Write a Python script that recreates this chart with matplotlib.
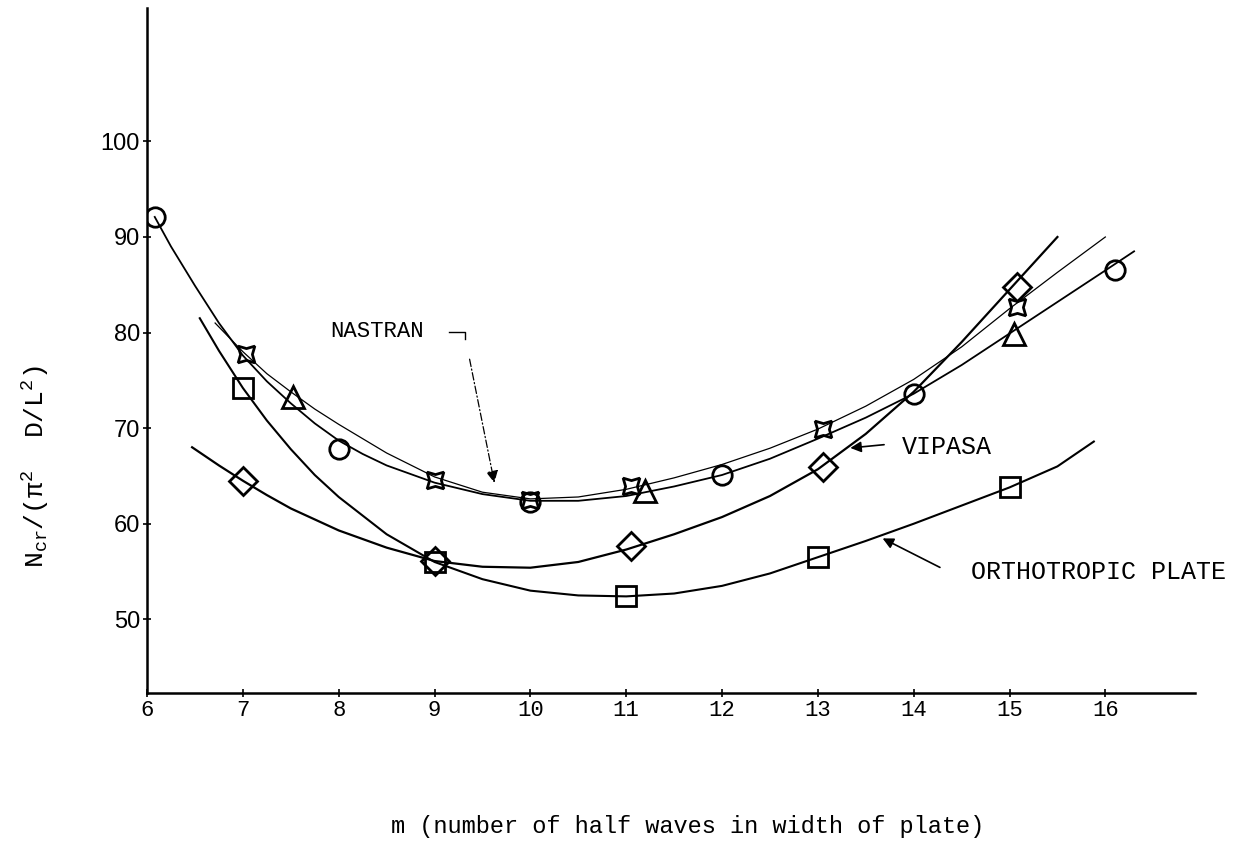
import matplotlib
matplotlib.use("Agg")
import matplotlib.pyplot as plt

plt.rcParams['font.family'] = ['Liberation Mono', 'DejaVu Sans']
plt.rcParams['mathtext.default'] = 'regular'

# points
m_circle = [6.08, 8.0, 10.0, 12.0, 14.0, 16.1]
v_circle = [92.1, 67.8, 62.3, 65.1, 73.6, 86.5]

m_star = [7.03, 9.0, 10.0, 11.05, 13.05, 15.08]
v_star = [77.8, 64.6, 62.5, 63.9, 69.9, 82.7]

m_tri = [7.52, 11.2, 15.05]
v_tri = [73.3, 63.4, 79.9]

m_square = [7.0, 9.0, 11.0, 13.0, 15.0]
v_square = [74.2, 56.0, 52.4, 56.5, 63.8]

m_diamond = [7.0, 9.0, 11.05, 13.05, 15.08]
v_diamond = [64.5, 56.1, 57.7, 65.9, 84.8]

# faired curves, traced by eye
cm_circle = [6.08, 6.25, 6.5, 6.75, 7.0, 7.25, 7.5, 7.75, 8.0, 8.25, 8.5, 9.0,
             9.5, 10.0, 10.5, 11.0, 11.5, 12.0, 12.5, 13.0, 13.5, 14.0, 14.5,
             15.0, 15.5, 16.0, 16.3]
cv_circle = [92.1, 89.0, 84.9, 81.0, 77.6, 74.9, 72.6, 70.5, 68.7, 67.3, 66.1, 64.3,
             63.1, 62.4, 62.4, 62.9, 63.9, 65.1, 66.8, 68.9, 71.1, 73.6, 76.6,
             79.9, 83.2, 86.5, 88.5]

cm_star = [6.71, 7.0, 7.25, 7.5, 7.75, 8.0, 8.5, 9.0, 9.5, 10.0, 10.5, 11.0, 11.5,
           12.0, 12.5, 13.0, 13.5, 14.0, 14.5, 15.0, 15.5, 16.0]
cv_star = [81.0, 78.0, 75.7, 73.8, 72.0, 70.4, 67.4, 64.9, 63.3, 62.6, 62.8, 63.6, 64.8,
           66.2, 67.9, 69.9, 72.3, 75.1, 78.5, 82.5, 86.3, 90.0]

cm_vipasa = [6.47, 6.75, 7.0, 7.25, 7.5, 8.0, 8.5, 9.0, 9.5, 10.0, 10.5, 11.0, 11.5,
             12.0, 12.5, 13.0, 13.5, 14.0, 14.5, 15.0, 15.5]
cv_vipasa = [68.0, 66.1, 64.5, 63.0, 61.6, 59.3, 57.5, 56.1, 55.5, 55.4, 56.0, 57.3, 58.9,
             60.7, 62.9, 65.7, 69.4, 73.8, 79.0, 84.5, 90.0]

cm_ortho = [6.55, 6.75, 7.0, 7.25, 7.5, 7.75, 8.0, 8.5, 9.0, 9.5, 10.0, 10.5, 11.0,
            11.5, 12.0, 12.5, 13.0, 13.5, 14.0, 14.5, 15.0, 15.5, 15.88]
cv_ortho = [81.5, 78.1, 74.2, 70.8, 67.8, 65.1, 62.8, 58.9, 56.0, 54.2, 53.0, 52.5, 52.4,
            52.7, 53.5, 54.8, 56.5, 58.2, 60.0, 61.9, 63.8, 66.0, 68.6]

x_ticks = [6, 7, 8, 9, 10, 11, 12, 13, 14, 15, 16]
y_ticks = [50, 60, 70, 80, 90, 100]

fig = plt.figure(figsize=(12.57, 8.44), dpi=100)
ax = fig.add_axes([0.117, 0.179, 0.834, 0.812])

ax.plot(cm_circle, cv_circle, color='black', lw=1.3, zorder=2)
ax.plot(cm_star, cv_star, color='black', lw=0.9, zorder=2)
ax.plot(cm_vipasa, cv_vipasa, color='black', lw=1.6, zorder=2)
ax.plot(cm_ortho, cv_ortho, color='black', lw=1.5, zorder=2)

mk = dict(linestyle='none', markerfacecolor='none', markeredgecolor='black',
          markeredgewidth=2.0, zorder=3)
ax.plot(m_circle, v_circle, marker='o', markersize=14, **mk)
ax.plot(m_star, v_star, marker=(4, 1, 45), markersize=17, **mk)
ax.plot(m_tri, v_tri, marker='^', markersize=16, **mk)
ax.plot(m_square, v_square, marker='s', markersize=15, **mk)
ax.plot(m_diamond, v_diamond, marker='D', markersize=14, **mk)

ax.set_xlim(6, 16.94)
ax.set_ylim(42.3, 114)
ax.spines['top'].set_visible(False)
ax.spines['right'].set_visible(False)
ax.spines['left'].set_linewidth(1.8)
ax.spines['bottom'].set_linewidth(1.8)

ax.set_xticks(x_ticks)
ax.set_xticklabels([str(t) for t in x_ticks], fontsize=16)
ax.set_yticks(y_ticks)
ax.set_yticklabels([str(t) for t in y_ticks], fontsize=17,
                   family=['Liberation Sans', 'DejaVu Sans'])
ax.tick_params(axis='both', direction='inout', length=6, width=1.2, pad=2)

ax.set_xlabel('m (number of half waves in width of plate)', fontsize=17)
ax.xaxis.set_label_coords(0.516, -0.178)
ax.set_ylabel(r'N$_{cr}$/(π$^{2}$  D/L$^{2}$)', fontsize=19)
ax.yaxis.set_label_coords(-0.092, 0.33)

ax.text(7.91, 80.1, 'NASTRAN', fontsize=16, va='center', ha='left')
ax.plot([9.15, 9.32, 9.32], [80.1, 80.1, 79.3], color='black', lw=1.0)
ax.annotate('', xy=(9.63, 64.0), xytext=(9.36, 77.5),
            arrowprops=dict(arrowstyle='-|>', color='black', lw=0.9,
                            linestyle=(0, (6, 2, 1, 2)), mutation_scale=18))

ax.text(13.88, 68.0, 'VIPASA', fontsize=18, va='center', ha='left')
ax.annotate('', xy=(13.31, 67.9), xytext=(13.72, 68.3),
            arrowprops=dict(arrowstyle='-|>', color='black', lw=1.2,
                            mutation_scale=16))

ax.text(14.6, 55.0, 'ORTHOTROPIC PLATE', fontsize=18, va='center', ha='left')
ax.annotate('', xy=(13.65, 58.6), xytext=(14.3, 55.3),
            arrowprops=dict(arrowstyle='-|>', color='black', lw=1.2,
                            mutation_scale=16))

fig.savefig('out.png', dpi=100)
